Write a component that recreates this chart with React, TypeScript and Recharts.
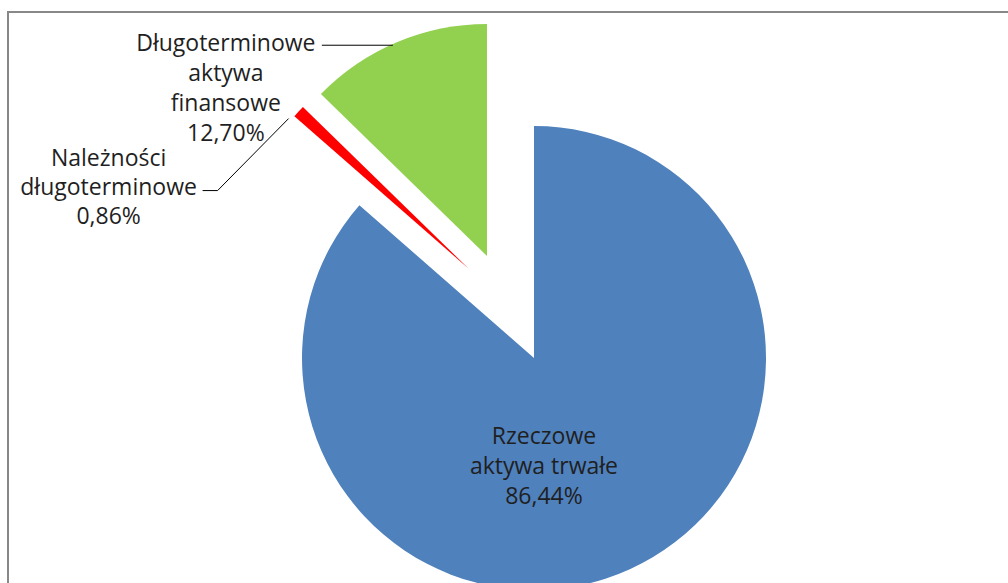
import React from 'react'
import { PieChart, Pie, Cell } from 'recharts'

// slices, clockwise from 12 o'clock
const names = ['Rzeczowe\naktywa trwałe', 'Należności\ndługoterminowe', 'Długoterminowe\naktywa\nfinansowe']
const values = [86.44, 0.86, 12.7]
const colors = ['#4F81BD', '#FF0000', '#92D050']

// exploded slice centres (layout only)
const centers = [
  { cx: 534, cy: 358 },
  { cx: 469, cy: 269 },
  { cx: 487, cy: 256 },
]
const RADIUS = 232
const FONT = "'Open Sans', sans-serif"
const TEXT = '#1f1f1f'

const data = names.map((name, i) => ({ name, value: values[i] }))
const fmt = (v: number) => v.toFixed(2).replace('.', ',') + '%'

const RAD = Math.PI / 180
const polar = (cx: number, cy: number, r: number, a: number) => ({
  x: cx + r * Math.cos(-a * RAD),
  y: cy + r * Math.sin(-a * RAD),
})

const Lines = ({ x, y, lines, step }: { x: number; y: number; lines: string[]; step: number }) => (
  <g>
    {lines.map((t, k) => (
      <text
        key={k}
        x={x}
        y={y + k * step}
        textAnchor="middle"
        dominantBaseline="central"
        fontFamily={FONT}
        fontSize={23}
        fill={TEXT}
      >
        {t}
      </text>
    ))}
  </g>
)

const makeLabel = (slice: number) => (p: any) => {
  if (p.index !== slice) return <g />
  const lines = [...String(p.name).split('\n'), fmt(p.value)]
  if (slice === 0) {
    return <Lines x={p.cx + 10} y={p.cy + 77} lines={lines} step={30} />
  }
  const m = polar(p.cx, p.cy, p.outerRadius, p.midAngle)
  if (slice === 2) {
    const end = { x: m.x - 4, y: m.y + 3 }
    return (
      <g>
        <line x1={end.x - 71} y1={end.y} x2={end.x} y2={end.y} stroke="#000" strokeWidth={1} />
        <Lines x={end.x - 167} y={end.y - 3} lines={lines} step={30} />
      </g>
    )
  }
  const end = { x: m.x - 10, y: m.y + 7 }
  const knee = { x: end.x - 71, y: end.y + 72 }
  const start = { x: knee.x - 15, y: knee.y }
  return (
    <g>
      <polyline
        points={`${start.x},${start.y} ${knee.x},${knee.y} ${end.x},${end.y}`}
        fill="none"
        stroke="#000"
        strokeWidth={1}
      />
      <Lines x={start.x - 94} y={knee.y - 34} lines={lines} step={29} />
    </g>
  )
}

export default function App() {
  return (
    <div
      style={{
        position: 'fixed',
        left: 0,
        top: 0,
        width: 1008,
        height: 583,
        overflow: 'hidden',
        background: '#fff',
      }}
    >
      <div
        style={{
          position: 'absolute',
          left: 7,
          top: 11,
          width: 1100,
          height: 700,
          borderTop: '2px solid #888',
          borderLeft: '2px solid #888',
        }}
      />
      <div style={{ position: 'absolute', left: 0, top: 0 }}>
        <PieChart width={1008} height={583} margin={{ top: 0, right: 0, bottom: 0, left: 0 }}>
          {centers.map((c, s) => (
            <Pie
              key={s}
              data={data}
              dataKey="value"
              nameKey="name"
              cx={c.cx}
              cy={c.cy}
              outerRadius={RADIUS}
              startAngle={90}
              endAngle={-270}
              stroke="none"
              label={makeLabel(s)}
              labelLine={false}
              isAnimationActive={false}
            >
              {data.map((d, i) => (
                <Cell key={d.name} fill={i === s ? colors[i] : 'none'} stroke="none" />
              ))}
            </Pie>
          ))}
        </PieChart>
      </div>
    </div>
  )
}
